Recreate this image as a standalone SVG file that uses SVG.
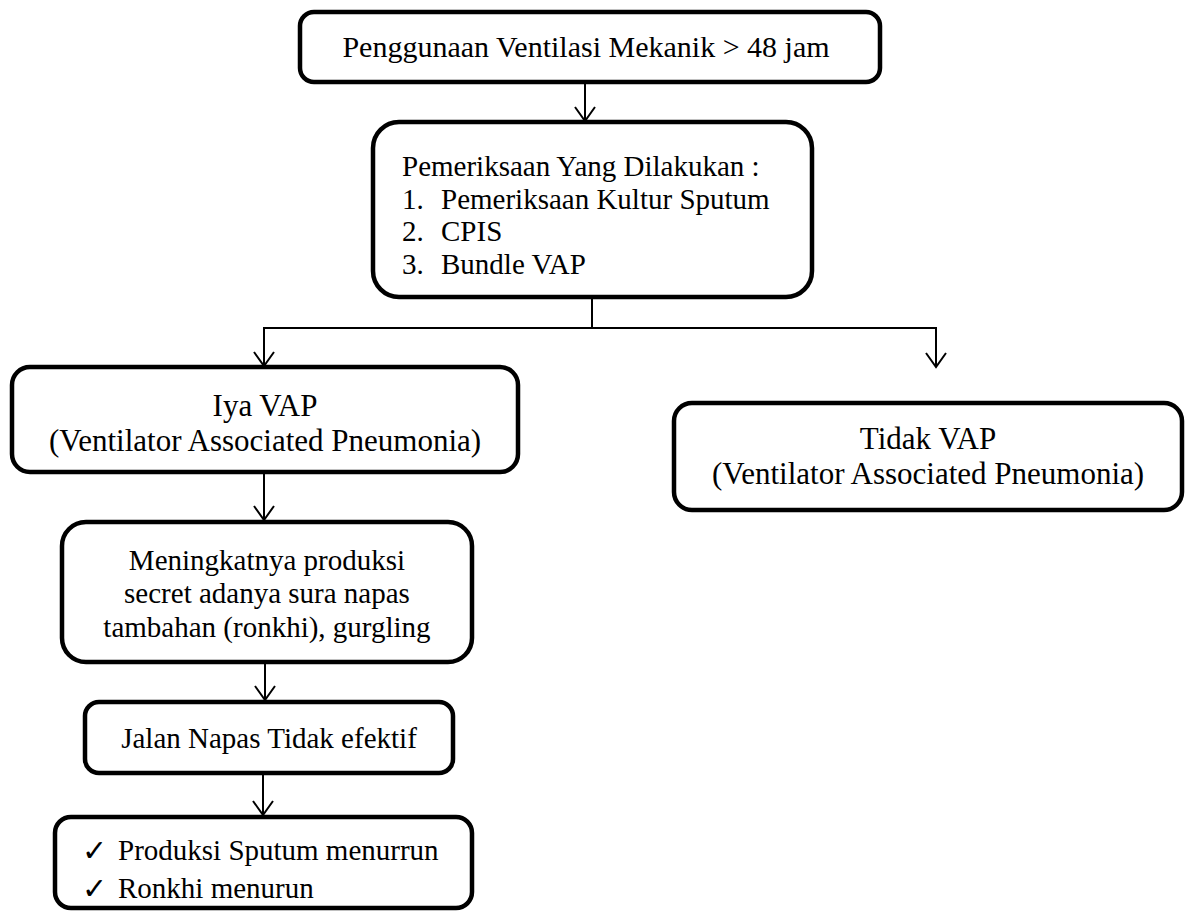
<svg xmlns="http://www.w3.org/2000/svg" width="1192" height="911" viewBox="0 0 1192 911">
<style>
.box{fill:#fff;stroke:#000;stroke-width:4.5}
.t{font-family:"Liberation Serif","Times New Roman",serif;font-size:29px;fill:#000}
.big{font-size:31px}
.c{text-anchor:middle}
.ln{fill:none;stroke:#000;stroke-width:2}
.ck{font-family:"DejaVu Sans",sans-serif;font-size:30px;fill:#000}
</style>
<defs>
<marker id="arr" markerWidth="24" markerHeight="24" refX="15" refY="11" orient="auto" markerUnits="userSpaceOnUse">
<path d="M1,1 L15,11 L1,21" fill="none" stroke="#000" stroke-width="2"/>
</marker>
</defs>
<rect width="1192" height="911" fill="#fff"/>
<g id="connectors">
<line class="ln" x1="585" y1="82" x2="585" y2="121" marker-end="url(#arr)"/>
<line class="ln" x1="592" y1="297" x2="592" y2="328"/>
<line class="ln" x1="263" y1="328" x2="937" y2="328"/>
<line class="ln" x1="264" y1="328" x2="264" y2="366" marker-end="url(#arr)"/>
<line class="ln" x1="936" y1="328" x2="936" y2="367" marker-end="url(#arr)"/>
<line class="ln" x1="264" y1="472" x2="264" y2="520" marker-end="url(#arr)"/>
<line class="ln" x1="265" y1="662" x2="265" y2="700" marker-end="url(#arr)"/>
<line class="ln" x1="263" y1="773" x2="263" y2="815" marker-end="url(#arr)"/>
</g>
<g id="n1">
<rect class="box" x="300" y="12" width="580" height="70" rx="14"/>
<text class="t c" x="586" y="57" style="font-size:30px">Penggunaan Ventilasi Mekanik &gt; 48 jam</text>
</g>
<g id="n2">
<rect class="box" x="373" y="122" width="439" height="175" rx="26"/>
<text class="t" x="402" y="176">Pemeriksaan Yang Dilakukan :</text>
<text class="t" x="402" y="208.5">1.</text><text class="t" x="441" y="208.5">Pemeriksaan Kultur Sputum</text>
<text class="t" x="402" y="241">2.</text><text class="t" x="441" y="241">CPIS</text>
<text class="t" x="402" y="273.5">3.</text><text class="t" x="441" y="273.5">Bundle VAP</text>
</g>
<g id="n3">
<rect class="box" x="12" y="367" width="506" height="105" rx="18"/>
<text class="t big c" x="265" y="416">Iya VAP</text>
<text class="t big c" x="265" y="451">(Ventilator Associated Pneumonia)</text>
</g>
<g id="n4">
<rect class="box" x="674" y="403" width="508" height="107" rx="18"/>
<text class="t big c" x="928" y="449">Tidak VAP</text>
<text class="t big c" x="928" y="484">(Ventilator Associated Pneumonia)</text>
</g>
<g id="n5">
<rect class="box" x="62" y="522" width="410" height="140" rx="24"/>
<text class="t c" x="267" y="570">Meningkatnya produksi</text>
<text class="t c" x="267" y="603">secret adanya sura napas</text>
<text class="t c" x="267" y="637">tambahan (ronkhi), gurgling</text>
</g>
<g id="n6">
<rect class="box" x="85" y="702" width="368" height="71" rx="14"/>
<text class="t c" x="269" y="748">Jalan Napas Tidak efektif</text>
</g>
<g id="n7">
<rect class="box" x="55" y="817" width="417" height="91" rx="16"/>
<text class="ck" x="82" y="861">✓</text>
<text class="t" x="118" y="860">Produksi Sputum menurrun</text>
<text class="ck" x="82" y="899">✓</text>
<text class="t" x="118" y="898">Ronkhi menurun</text>
</g>
</svg>
